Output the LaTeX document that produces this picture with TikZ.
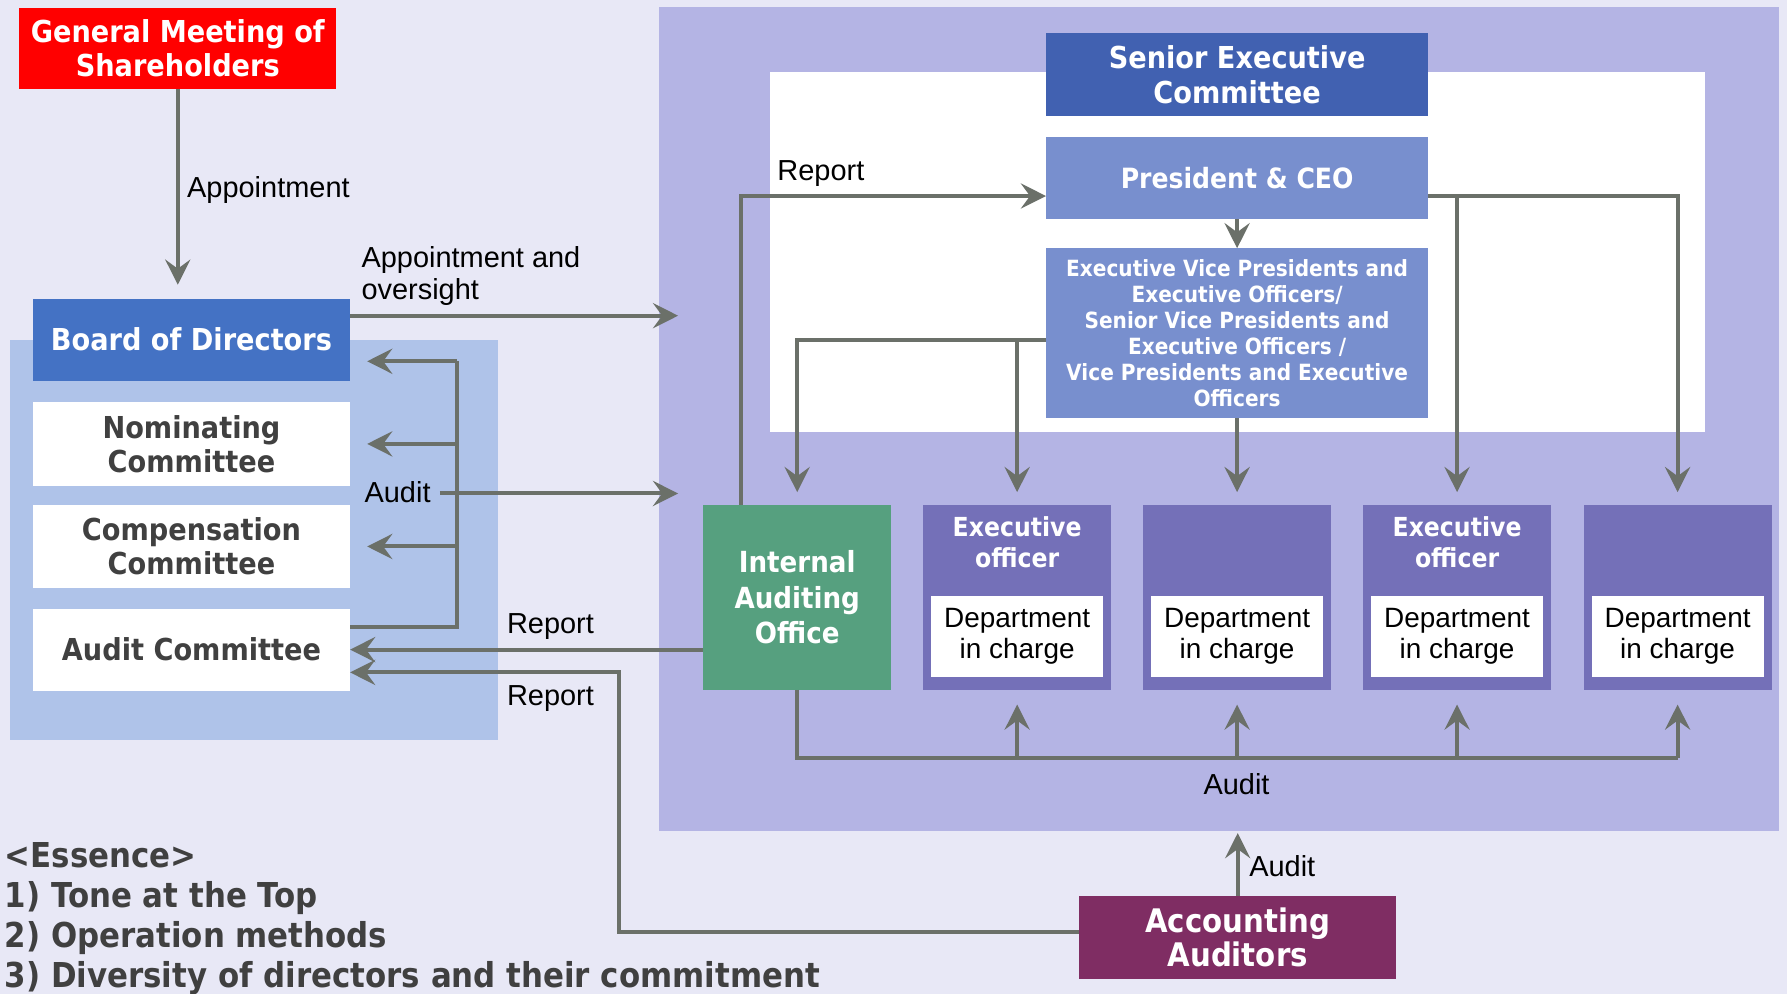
\documentclass[tikz,border=0pt]{standalone}
\usepackage{fontspec}
\setmainfont{Liberation Sans}
\newfontfamily\hdfont{DejaVu Sans}[FakeStretch=0.9]
\usetikzlibrary{arrows.meta, positioning}

\definecolor{pagebg}{HTML}{E8E8F6}
\definecolor{execpanel}{HTML}{B4B4E4}
\definecolor{boardpanel}{HTML}{AFC3E9}
\definecolor{gmsred}{HTML}{FF0000}
\definecolor{boardblue}{HTML}{4472C4}
\definecolor{secblue}{HTML}{4161B1}
\definecolor{presblue}{HTML}{788FCE}
\definecolor{deptpurple}{HTML}{7470B8}
\definecolor{iaogreen}{HTML}{56A07F}
\definecolor{aaplum}{HTML}{7F2D63}
\definecolor{arrowgray}{HTML}{6B7069}
\definecolor{txtgray}{HTML}{404040}

\tikzset{
  orgbox/.style={inner sep=0pt, align=center, text=white, font=\hdfont\bfseries\fontsize{26.5}{30}\selectfont},
  combox/.style={orgbox, fill=white, text=txtgray, minimum width=278pt, minimum height=73pt},
  deptbox/.style={fill=deptpurple, minimum width=165pt, minimum height=162pt, inner sep=0pt},
  depttitle/.style={inner sep=0pt, align=center, text=white, font=\hdfont\bfseries\fontsize{23}{27}\selectfont},
  deptin/.style={fill=white, minimum width=151pt, minimum height=71pt, inner sep=0pt, align=center, font=\fontsize{24.5}{27}\selectfont},
  lbl/.style={inner sep=0pt, align=left, font=\fontsize{25.4}{28}\selectfont},
  conn/.style={draw=arrowgray, line width=3.5pt},
  arr/.style={conn, -{Stealth[length=22pt, width=22pt, inset=8pt]}},
}

\begin{document}
\begin{tikzpicture}[x=1pt, y=-1pt]
  \useasboundingbox (0,0) rectangle (1568,872);
  % panels
  \fill[pagebg] (0,0) rectangle (1568,872);
  \fill[execpanel] (578,6) rectangle (1561,729);
  \fill[white] (676,63) rectangle (1496,379);
  \fill[boardpanel] (9,298) rectangle (437,649);

  % shareholders and board
  \node[orgbox, fill=gmsred, minimum width=278pt, minimum height=71pt] (gms) at (156,42.5) {General Meeting of\\Shareholders};
  \node[orgbox, fill=boardblue, minimum width=278pt, minimum height=72pt] (board) at (168,298) {Board of Directors};
  \node[combox] (nom) at (168,389.5) {Nominating\\Committee};
  \node[combox] (comp) at (168,479.5) {Compensation\\Committee};
  \node[combox, minimum height=72pt] (ac) at (168,570) {Audit Committee};

  % executive side
  \node[orgbox, fill=secblue, minimum width=335pt, minimum height=73pt] (sec) at (1085.5,65.5) {Senior Executive\\Committee};
  \node[orgbox, fill=presblue, minimum width=335pt, minimum height=72pt, font=\hdfont\bfseries\fontsize{24.5}{27}\selectfont] (pres) at (1085.5,156) {President \& CEO};
  \node[orgbox, fill=presblue, minimum width=335pt, minimum height=149pt, font=\hdfont\bfseries\fontsize{19.6}{22.8}\selectfont] (evp) at (1085.5,292.5) {Executive Vice Presidents and\\Executive Officers/\\Senior Vice Presidents and\\Executive Officers /\\Vice Presidents and Executive\\Officers};
  \node[orgbox, fill=iaogreen, minimum width=165pt, minimum height=162pt, font=\hdfont\bfseries\fontsize{25.5}{31}\selectfont] (iao) at (699.5,524) {Internal\\Auditing\\Office};

  \foreach \i/\cx/\ttl in {1/892.5/{Executive\\officer}, 2/1085.5/{}, 3/1278.5/{Executive\\officer}, 4/1472/{}} {
    \node[deptbox] (eo\i) at (\cx,524) {};
    \node[depttitle] (eot\i) at (\cx,476) {\ttl};
    \node[deptin] (dep\i) at (\cx,558.5) {Department\\in charge};
  }

  \node[orgbox, fill=aaplum, minimum width=278pt, minimum height=73pt, font=\hdfont\bfseries\fontsize{28.5}{29}\selectfont] (aa) at (1086,822.5) {Accounting\\Auditors};

  % connectors
  \draw[arr, shorten >=12pt] (gms.south) -- (gms.south |- board.north);
  \node[lbl, anchor=west] (apptlbl) at (164,167) {Appointment};

  \coordinate (oversight) at (595,277);
  \draw[arr] (board.east |- oversight) -- (oversight);
  \node[lbl, anchor=west] (overlbl) at (317,242) {Appointment and\\oversight};

  \coordinate (auditbus) at (401,317);
  \draw[conn] ([yshift=20pt]ac.east) -| (auditbus);
  \draw[arr, shorten >=15pt] (auditbus) -- (board.east |- auditbus);
  \draw[arr, shorten >=15pt] (auditbus |- nom.east) -- (nom.east);
  \draw[arr, shorten >=15pt] (auditbus |- comp.east) -- (comp.east);
  \node[lbl, anchor=east] (auditlbl) at (378,432) {Audit};
  \coordinate (auditin) at (595,433);
  \draw[arr] ([xshift=8pt]auditlbl.east |- auditin) -- (auditin);

  \draw[arr] (iao.west |- ac.east) -- (ac.east);
  \node[lbl] (rptlbl1) at (483,550) {Report};
  \coordinate (rptturn) at (543,590);
  \draw[arr] ([yshift=5pt]aa.west) -| (rptturn) -- (ac.east |- rptturn);
  \node[lbl] (rptlbl2) at (483,613) {Report};

  \coordinate (aaaudit) at (1086,731);
  \draw[arr] (aa.north) -- (aaaudit);
  \node[lbl, anchor=west] (aalbl) at (1096,760) {Audit};

  \coordinate (rptx) at (650,0);
  \draw[arr] (rptx |- iao.north) |- ([yshift=-16pt]pres.west);
  \node[lbl, anchor=west] (rptlbl3) at (682,152) {Report};

  \draw[arr] (pres.south) -- (evp.north);
  \coordinate (evpbus) at ([yshift=-6pt]evp.west);
  \draw[arr, shorten >=11pt] (evpbus) -| (iao.north);
  \draw[arr, shorten >=11pt] (eo1.north |- evpbus) -- (eo1.north);
  \draw[arr, shorten >=11pt] (evp.south) -- (eo2.north);
  \coordinate (presbus) at ([yshift=-16pt]pres.east);
  \draw[arr, shorten >=11pt] (presbus) -| (eo4.north);
  \draw[arr, shorten >=11pt] (eo3.north |- presbus) -- (eo3.north);

  \coordinate (busy) at (0,665);
  \draw[conn] (iao.south) |- (eo4.south |- busy);
  \foreach \i in {1,...,4}
    \draw[arr, shorten >=13pt] (eo\i.south |- busy) -- (eo\i.south);
  \node[lbl] (buslbl) at (1085,688) {Audit};

  % essence
  \node[anchor=north west, inner sep=0pt, align=left, text=txtgray, font=\hdfont\bfseries\fontsize{30.1}{35}\selectfont] (essence) at (4,739) {<Essence>\\1) Tone at the Top\\2) Operation methods\\3) Diversity of directors and their commitment};
\end{tikzpicture}
\end{document}
